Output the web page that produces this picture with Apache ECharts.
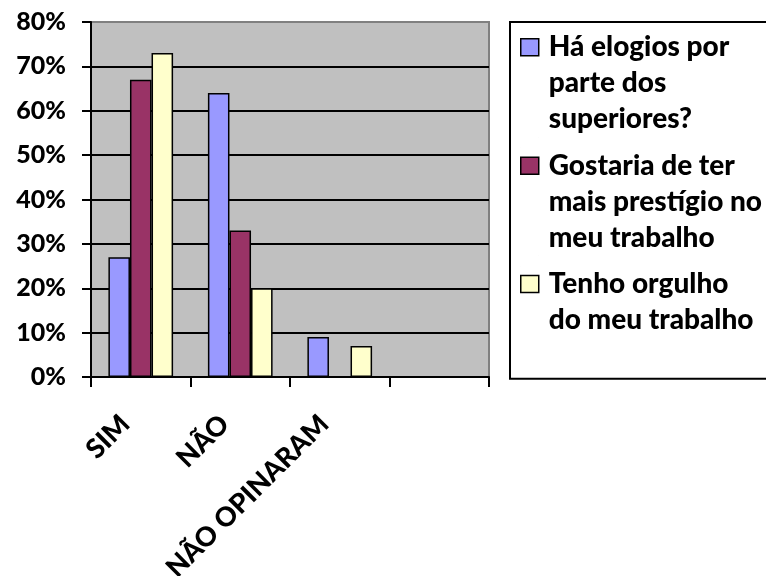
<!DOCTYPE html>
<html><head><meta charset="utf-8">
<script src="https://cdn.jsdelivr.net/npm/echarts@6/dist/echarts.min.js"></script>
<style>html,body{margin:0;padding:0;background:#fff}#c{width:766px;height:576px}</style>
</head><body><div id="c"></div>
<script>
const categories = ['SIM', 'NÃO', 'NÃO OPINARAM', ''];
const seriesNames = [
  'Há elogios por parte dos superiores?',
  'Gostaria de ter mais prestígio no meu trabalho',
  'Tenho orgulho do meu trabalho'
];
const legendLines = [
  'Há elogios por\nparte dos\nsuperiores?',
  'Gostaria de ter\nmais prestígio no\nmeu trabalho',
  'Tenho orgulho\ndo meu trabalho\n '
];
const elogios = [27, 64, 9, null];
const prestigio = [67, 33, null, null];
const orgulho = [73, 20, 7, null];
const barColors = ['#9999FF', '#993366', '#FFFFCC'];
const yMin = 0, yMax = 80, yStep = 10;

const FONT = 'Lato';
const seriesData = [elogios, prestigio, orgulho];
const splitColors = [];
for (let v = yMin; v <= yMax; v += yStep) splitColors.push(v === yMax ? '#808080' : '#000000');

const chart = echarts.init(document.getElementById('c'), null, {renderer: 'canvas'});
chart.setOption({
  animation: false,
  backgroundColor: '#ffffff',
  grid: {
    left: 91, top: 22, width: 398, height: 355,
    containLabel: false, outerBoundsMode: 'none',
    show: true, backgroundColor: '#C0C0C0', borderColor: '#808080', borderWidth: 2
  },
  legend: {
    orient: 'vertical',
    left: 510, top: 22,
    padding: [6.5, 40, 4, 10],
    itemGap: 9,
    itemWidth: 18, itemHeight: 108,
    borderColor: '#000', borderWidth: 2,
    data: seriesNames.map(n => ({
      name: n,
      icon: 'path://M0,0L0.01,0M0,9.5L18,9.5L18,26.5L0,26.5ZM18,108L18.01,108'
    })),
    itemStyle: {borderColor: '#000', borderWidth: 1.5},
    formatter: name => legendLines[seriesNames.indexOf(name)],
    textStyle: {fontFamily: FONT, fontWeight: 900, fontSize: 28, lineHeight: 36, color: '#000', padding: [0, 0, 0, 5]}
  },
  xAxis: {
    type: 'category',
    data: categories,
    axisLine: {lineStyle: {color: '#000', width: 2}},
    axisTick: {show: true, length: 10, interval: 0, lineStyle: {color: '#000', width: 2}},
    axisLabel: {
      interval: 0, rotate: 45, margin: 27,
      fontFamily: FONT, fontWeight: 900, fontSize: 27, color: '#000',
      padding: [0, 22, 0, 0]
    },
    splitLine: {show: false}
  },
  yAxis: {
    type: 'value',
    min: yMin, max: yMax, interval: yStep,
    axisLine: {show: true, lineStyle: {color: '#000', width: 2}},
    axisTick: {show: true, length: 9, lineStyle: {color: '#000', width: 2}},
    axisLabel: {
      formatter: '{value}%', margin: 25,
      fontFamily: FONT, fontWeight: 900, fontSize: 25, color: '#000'
    },
    splitLine: {show: true, lineStyle: {color: splitColors, width: 2}}
  },
  series: seriesData.map((d, i) => ({
    name: seriesNames[i],
    type: 'bar',
    data: d,
    barGap: '0%',
    barCategoryGap: '35%',
    itemStyle: {color: barColors[i], borderColor: '#000', borderWidth: 1.5}
  }))
});
</script>
</body></html>
